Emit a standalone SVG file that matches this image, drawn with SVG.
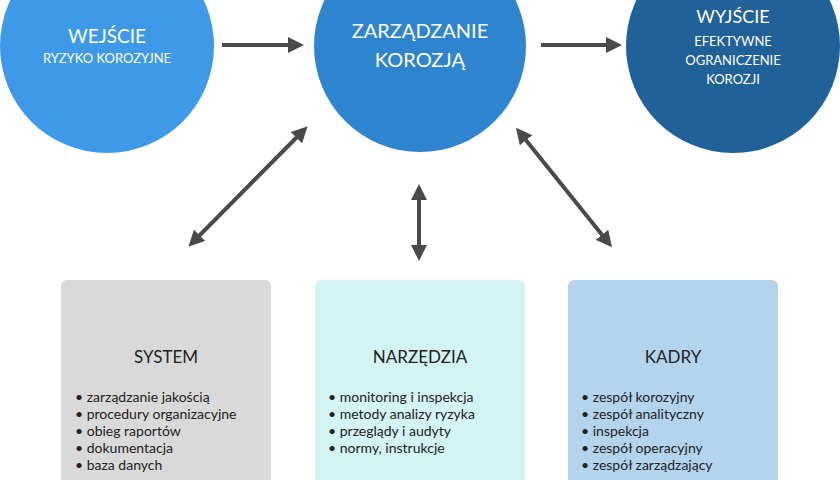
<svg xmlns="http://www.w3.org/2000/svg" width="840" height="480" viewBox="0 0 840 480">
<style>
text{font-family:Lato,"Noto Sans","Liberation Sans",sans-serif}
.w{fill:#fff;text-anchor:middle}
.t{fill:#222;font-size:17px;text-anchor:middle}
.b{fill:#222;font-size:14px}
.c{stroke:#4a4a4a;stroke-width:4;fill:none}
</style>
<defs>
<marker id="a" viewBox="0 0 10 10" refX="5" refY="5" markerWidth="4" markerHeight="4" orient="auto-start-reverse">
<path d="M0,0L10,5L0,10z" fill="#4a4a4a"/>
</marker>
</defs>
<rect width="840" height="480" fill="#fff"/>
<g id="wejscie"><circle cx="107" cy="46" r="107" fill="#3e9ae8"/>
<text class="w" x="107" y="43" font-size="19">WEJŚCIE</text>
<text class="w" x="107" y="63" font-size="13">RYZYKO KOROZYJNE</text></g>
<g id="zarzadzanie"><circle cx="420" cy="46" r="106" fill="#2f84d0"/>
<text class="w" x="420" y="38" font-size="20">ZARZĄDZANIE</text>
<text class="w" x="420" y="67" font-size="20">KOROZJĄ</text></g>
<g id="wyjscie"><circle cx="733" cy="46" r="107" fill="#1f6198"/>
<text class="w" x="733" y="23" font-size="18">WYJŚCIE</text>
<text class="w" x="733" y="46" font-size="13">EFEKTYWNE</text>
<text class="w" x="733" y="65" font-size="13">OGRANICZENIE</text>
<text class="w" x="733" y="84" font-size="13">KOROZJI</text></g>
<g id="system"><rect x="61" y="280" width="210" height="215" rx="6" fill="#d9d9d9"/>
<text class="t" x="166" y="363">SYSTEM</text>
<text class="b" x="75" y="402">• zarządzanie jakością</text>
<text class="b" x="75" y="419">• procedury organizacyjne</text>
<text class="b" x="75" y="436">• obieg raportów</text>
<text class="b" x="75" y="453">• dokumentacja</text>
<text class="b" x="75" y="470">• baza danych</text></g>
<g id="narzedzia"><rect x="315" y="280" width="210" height="215" rx="6" fill="#d3f3f5"/>
<text class="t" x="420" y="363">NARZĘDZIA</text>
<text class="b" x="328" y="402">• monitoring i inspekcja</text>
<text class="b" x="328" y="419">• metody analizy ryzyka</text>
<text class="b" x="328" y="436">• przeglądy i audyty</text>
<text class="b" x="328" y="453">• normy, instrukcje</text></g>
<g id="kadry"><rect x="568" y="280" width="210" height="215" rx="6" fill="#b4d4ee"/>
<text class="t" x="673" y="363">KADRY</text>
<text class="b" x="581" y="402">• zespół korozyjny</text>
<text class="b" x="581" y="419">• zespół analityczny</text>
<text class="b" x="581" y="436">• inspekcja</text>
<text class="b" x="581" y="453">• zespół operacyjny</text>
<text class="b" x="581" y="470">• zespół zarządzający</text></g>
<g id="connectors">
<line class="c" x1="222" y1="45" x2="296" y2="45" marker-end="url(#a)"/>
<line class="c" x1="541" y1="45" x2="614" y2="45" marker-end="url(#a)"/>
<line class="c" x1="194" y1="241" x2="302" y2="132" marker-start="url(#a)" marker-end="url(#a)"/>
<line class="c" x1="419" y1="192" x2="419" y2="253" marker-start="url(#a)" marker-end="url(#a)"/>
<line class="c" x1="521" y1="134" x2="607" y2="241" marker-start="url(#a)" marker-end="url(#a)"/>
</g>
</svg>
